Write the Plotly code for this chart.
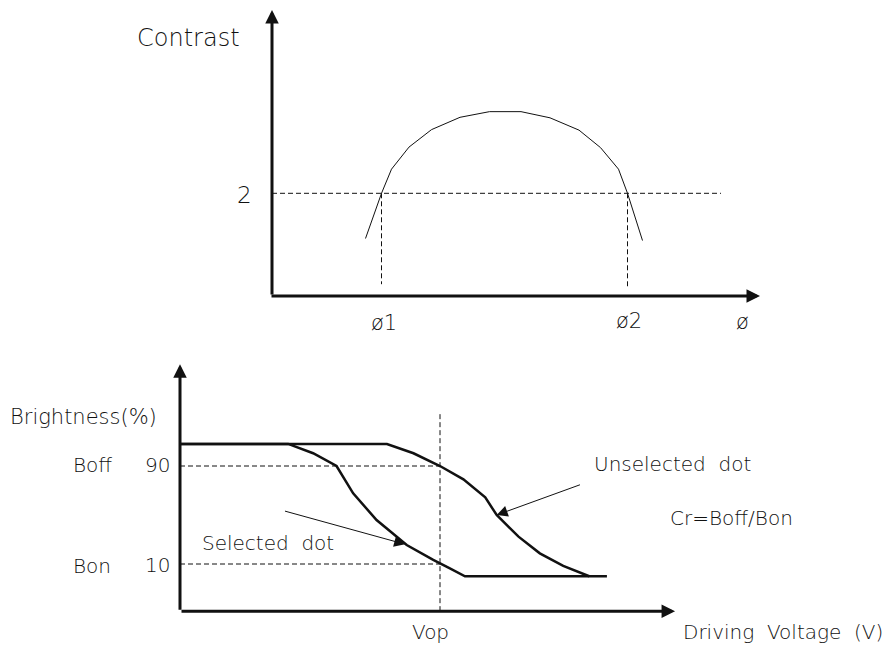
import plotly.graph_objects as go

# ---------------- data ----------------
# Top panel: contrast vs viewing angle (arbitrary phi units)
phi = [18.7, 21.9, 23.9, 27.4, 31.9, 37.6, 43.5, 49.8, 55.6, 61.4, 65.7, 69.3, 71.1, 74.1]
contrast = [1.12, 2.0, 2.47, 2.90, 3.24, 3.48, 3.59, 3.59, 3.47, 3.23, 2.89, 2.47, 2.0, 1.08]
phi1, phi2 = 21.9, 71.1
cr_level = 2
phi_axis_end = 97.6
contrast_axis_end = 5.57

# Bottom panel: brightness vs driving voltage
v_selected = [0, 2.08, 2.56, 3.01, 3.33, 3.78, 4.36, 4.87, 5.19, 5.48, 8.21]
b_selected = [108, 108, 100.4, 90, 67.7, 45.9, 25.5, 13.3, 6.5, 0, 0]
v_unselected = [0, 3.98, 4.49, 5.0, 5.45, 5.87, 6.09, 6.51, 6.92, 7.37, 7.87]
b_unselected = [108, 108, 100.4, 90, 79.1, 64.4, 50, 32.3, 18.7, 8.4, 0]
vop = 5.0
b_off, b_on = 90, 10
v_axis_end = 9.52
b_axis_end = 173
b_axis_min = -28.5
vop_line_top = 134.3

# ---------------- geometry (pixel mapping) ----------------
W, H = 890, 646
T_X0, T_XS = 272, 5.0        # pixel of phi=0, px per unit
T_Y0, T_YS = 296, 51.35      # pixel of contrast=0, px per unit
B_X0, B_XS = 180, 52.0
B_Y10, B_YS = 564, 1.225     # pixel of brightness=10, px per %

top_xr = [(0 - T_X0) / T_XS, (W - T_X0) / T_XS]
top_yr = [(T_Y0 - H) / T_YS, (T_Y0 - 0) / T_YS]
bot_xr = [(0 - B_X0) / B_XS, (W - B_X0) / B_XS]
bot_yr = [10 + (B_Y10 - H) / B_YS, 10 + (B_Y10 - 0) / B_YS]

FONT = "DejaVu Sans"
INK = "#111111"

fig = go.Figure()

dash = "5px,3px"
fig.add_trace(go.Scatter(x=phi, y=contrast, mode="lines",
                         line=dict(color=INK, width=1), xaxis="x", yaxis="y"))
fig.add_trace(go.Scatter(x=[0, 89.8], y=[cr_level, cr_level], mode="lines",
                         line=dict(color=INK, width=1, dash=dash), xaxis="x", yaxis="y"))
fig.add_trace(go.Scatter(x=[phi1, phi1], y=[cr_level, 0.23], mode="lines",
                         line=dict(color=INK, width=1, dash=dash), xaxis="x", yaxis="y"))
fig.add_trace(go.Scatter(x=[phi2, phi2], y=[cr_level, 0.19], mode="lines",
                         line=dict(color=INK, width=1, dash=dash), xaxis="x", yaxis="y"))

fig.add_trace(go.Scatter(x=v_selected, y=b_selected, mode="lines",
                         line=dict(color=INK, width=2.5), xaxis="x2", yaxis="y2"))
fig.add_trace(go.Scatter(x=v_unselected, y=b_unselected, mode="lines",
                         line=dict(color=INK, width=2.5), xaxis="x2", yaxis="y2"))
fig.add_trace(go.Scatter(x=[0, vop], y=[b_off, b_off], mode="lines",
                         line=dict(color=INK, width=1, dash=dash), xaxis="x2", yaxis="y2"))
fig.add_trace(go.Scatter(x=[0, vop], y=[b_on, b_on], mode="lines",
                         line=dict(color=INK, width=1, dash=dash), xaxis="x2", yaxis="y2"))
fig.add_trace(go.Scatter(x=[vop, vop], y=[b_axis_min, vop_line_top], mode="lines",
                         line=dict(color=INK, width=1, dash=dash), xaxis="x2", yaxis="y2"))

annotations = []


def axis_arrow(xref, yref, x0, y0, x1, y1, width=3, size=0.9, head=2):
    annotations.append(dict(x=x1, y=y1, ax=x0, ay=y0, xref=xref, yref=yref,
                            axref=xref, ayref=yref, showarrow=True, text="",
                            arrowhead=head, arrowsize=size, arrowwidth=width,
                            arrowcolor=INK))


axis_arrow("x", "y", -0.4, 0, phi_axis_end, 0)
axis_arrow("x", "y", 0, 0, 0, contrast_axis_end)
axis_arrow("x2", "y2", 0, b_axis_min, v_axis_end, b_axis_min)
axis_arrow("x2", "y2", 0, b_axis_min, 0, b_axis_end)
axis_arrow("x2", "y2", 1.99, 53.5, 4.33, 26.1, width=1, size=2.2, head=2)
axis_arrow("x2", "y2", 7.72, 75.1, 6.09, 50.0, width=1, size=2.2, head=2)


def label(text, px, py, size=20, anchor="left"):
    annotations.append(dict(text=text, x=px / W, y=1 - py / H, xref="paper", yref="paper",
                            xanchor=anchor, yanchor="middle", showarrow=False,
                            font=dict(family=FONT, size=size, color=INK, weight=200)))


label("Contrast", 135, 38, size=24)
label("2", 244, 195, size=23, anchor="center")
label("ø1", 384, 323, size=21, anchor="center")
label("ø2", 629, 321, size=21, anchor="center")
label("ø", 742, 322, size=21, anchor="center")
label("Brightness(%)", 8, 417, size=21)
label("Boff", 71, 465, size=20)
label("90", 157, 465, size=20, anchor="center")
label("Bon", 71, 566, size=20)
label("10", 157, 565, size=20, anchor="center")
label("Selected  dot", 200, 543, size=20)
label("Unselected  dot", 592, 464, size=20)
label("Cr=Boff/Bon", 668, 518, size=20)
label("Vop", 430, 632, size=20, anchor="center")
label("Driving  Voltage  (V)", 885, 632, size=20, anchor="right")

hidden = dict(visible=False, showgrid=False, zeroline=False, fixedrange=True)
fig.update_layout(
    width=W, height=H, autosize=False,
    margin=dict(l=0, r=0, t=0, b=0),
    paper_bgcolor="white", plot_bgcolor="rgba(0,0,0,0)",
    showlegend=False,
    xaxis=dict(domain=[0, 1], range=top_xr, anchor="y", **hidden),
    yaxis=dict(domain=[0, 1], range=top_yr, anchor="x", **hidden),
    xaxis2=dict(domain=[0, 1], range=bot_xr, anchor="y2", **hidden),
    yaxis2=dict(domain=[0, 1], range=bot_yr, anchor="x2", **hidden),
    annotations=annotations,
)

fig.write_html("out.html", config={"displayModeBar": False},
               post_script="document.body.style.margin='0';")
